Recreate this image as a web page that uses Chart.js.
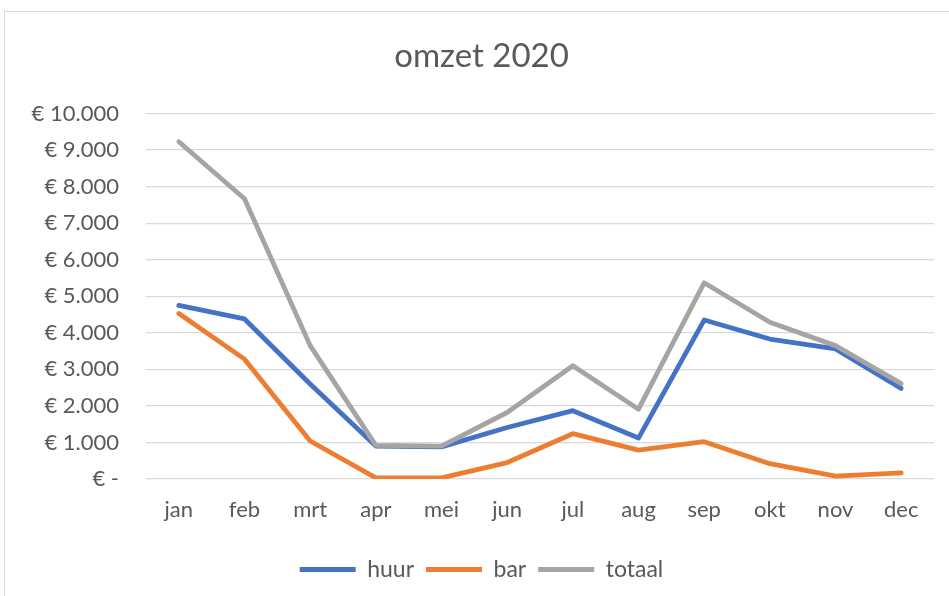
<!DOCTYPE html>
<html>
<head>
<meta charset="utf-8">
<script src="https://cdn.jsdelivr.net/npm/chart.js@4.4.1/dist/chart.umd.min.js"></script>
<style>
html, body { margin: 0; padding: 0; background: #fff; overflow: hidden; }
#wrap { position: relative; width: 949px; height: 596px; }
#frame { position: absolute; left: 4px; top: 11px; width: 1000px; height: 700px; border: 1px solid #d9d9d9; pointer-events: none; }
canvas { position: absolute; left: 0; top: 0; }
</style>
</head>
<body>
<div id="wrap">
<canvas id="omzetChart" width="949" height="596"></canvas>
<div id="frame"></div>
</div>
<script>

const months = ["jan","feb","mrt","apr","mei","jun","jul","aug","sep","okt","nov","dec"];

const huur   = [4750, 4380, 2600, 900, 880, 1410, 1870, 1120, 4350, 3830, 3560, 2480];
const bar    = [4530, 3280, 1040, 30, 30, 450, 1240, 790, 1020, 420, 80, 170];
const totaal = [9230, 7670, 3650, 920, 900, 1820, 3100, 1910, 5370, 4290, 3650, 2610];

const textColor = "#595959";
const fontFamily = "Lato, 'Liberation Sans', sans-serif";

/* euro labels like Excel: € 1.000, € - for zero */
function euro(v){
if(v === 0) return "€ -";
return "€ " + String(v).replace(/\B(?=(\d{3})+(?!\d))/g, ".");
}

function lineSet(label, data, color, order){
return {
label: label,
data: data,
borderColor: color,
backgroundColor: color,
borderWidth: 4.8,
borderCapStyle: "round",
borderJoinStyle: "round",
pointRadius: 0,
tension: 0,
fill: false,
order: order
};
}

const ctx = document.getElementById("omzetChart").getContext("2d");

const chart = new Chart(ctx, {
type: "line",
data: {
labels: months,
datasets: [
lineSet("huur", huur, "#4472C4", 3),
lineSet("bar", bar, "#ED7D31", 2),
lineSet("totaal", totaal, "#A5A5A5", 1)
]
},
options: {
responsive: false,
animation: false,
layout: {
padding: { left: 29, right: 15, top: 0, bottom: 5 }
},
plugins: {
title: {
display: true,
text: "omzet 2020",
color: textColor,
font: { family: fontFamily, size: 33, weight: "normal" },
padding: { top: 37, bottom: 37 }
},
legend: {
position: "bottom",
labels: {
color: textColor,
font: { family: fontFamily, size: 23 },
boxWidth: 56,
boxHeight: 5,
padding: 12,
sort: (a, b) => a.datasetIndex - b.datasetIndex,
generateLabels: (c) => c.data.datasets.map((d, i) => ({
text: d.label,
fillStyle: d.borderColor,
strokeStyle: d.borderColor,
lineWidth: 0,
fontColor: textColor,
datasetIndex: i,
hidden: false
}))
}
},
tooltip: { enabled: false }
},
scales: {
x: {
offset: true,
grid: { display: false },
border: { display: false },
ticks: {
color: textColor,
font: { family: fontFamily, size: 22 },
padding: 10
},
afterFit: (s) => { s.height = 67; }
},
y: {
min: 0,
max: 10000,
grid: { color: "#d9d9d9", lineWidth: 1.3, drawTicks: false },
border: { display: false },
ticks: {
stepSize: 1000,
color: textColor,
font: { family: fontFamily, size: 22 },
padding: 27,
callback: (v) => euro(v)
},
afterFit: (s) => { s.width = 117; }
}
}
}
});

</script>
</body>
</html>
